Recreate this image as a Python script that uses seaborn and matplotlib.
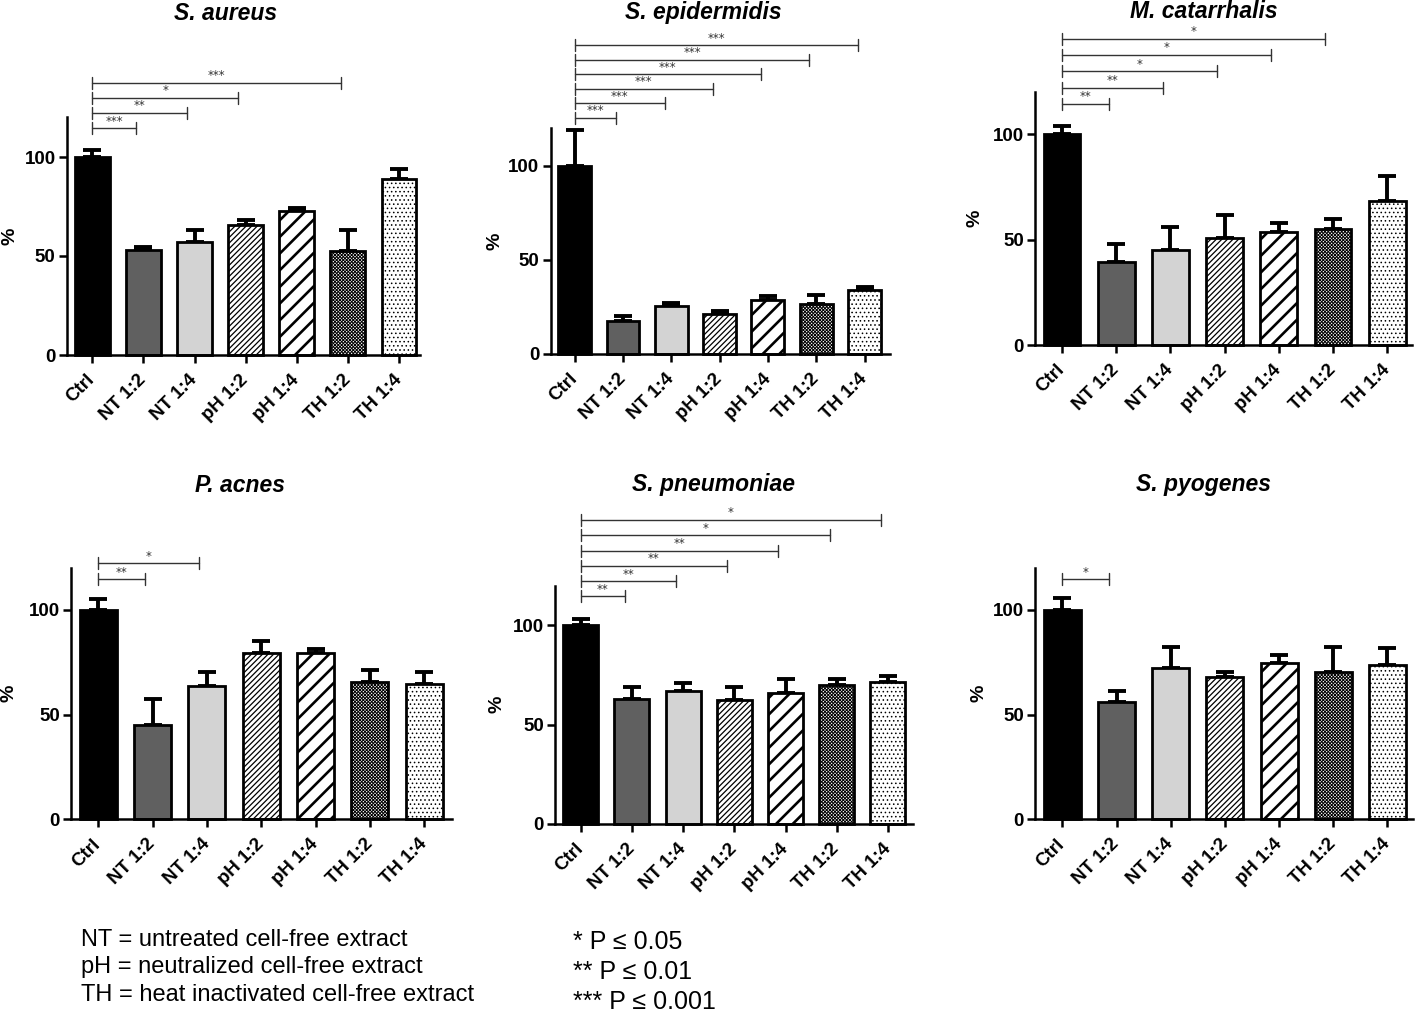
import numpy as np
import pandas as pd
import matplotlib
matplotlib.use("Agg")
import matplotlib.pyplot as plt
import seaborn as sns

# ---------------- data ----------------
categories = ["Ctrl", "NT 1:2", "NT 1:4", "pH 1:2", "pH 1:4", "TH 1:2", "TH 1:4"]
organisms = ["S. aureus", "S. epidermidis", "M. catarrhalis",
             "P. acnes", "S. pneumoniae", "S. pyogenes"]

aureus_mean = [100, 53.0, 57.2, 65.5, 72.7, 52.5, 89.0]
aureus_err = [3.7, 1.4, 6.1, 2.5, 1.5, 10.5, 4.8]
epidermidis_mean = [100, 17.7, 25.5, 21.1, 28.7, 26.6, 34.0]
epidermidis_err = [19.1, 2.5, 1.8, 1.9, 2.3, 4.8, 1.5]
catarrhalis_mean = [100, 39.2, 44.9, 50.6, 53.6, 55.2, 68.2]
catarrhalis_err = [3.9, 8.7, 10.9, 10.9, 4.4, 4.6, 12.2]
acnes_mean = [100, 45.0, 63.7, 79.3, 79.3, 65.5, 64.5]
acnes_err = [4.9, 12.2, 6.6, 5.9, 2.1, 5.9, 5.8]
pneumoniae_mean = [100, 63.1, 67.1, 62.4, 65.8, 70.0, 71.6]
pneumoniae_err = [3.4, 5.7, 3.7, 6.7, 7.3, 3.1, 3.0]
pyogenes_mean = [100, 56.1, 72.3, 68.0, 74.6, 70.3, 73.8]
pyogenes_err = [5.6, 5.0, 9.8, 2.3, 3.7, 12.0, 8.1]

# significance vs Ctrl: (target category index, label)
aureus_sig = [(1, "***"), (2, "**"), (3, "*"), (5, "***")]
epidermidis_sig = [(1, "***"), (2, "***"), (3, "***"), (4, "***"), (5, "***"), (6, "***")]
catarrhalis_sig = [(1, "**"), (2, "**"), (3, "*"), (4, "*"), (5, "*")]
acnes_sig = [(1, "**"), (2, "*")]
pneumoniae_sig = [(1, "**"), (2, "**"), (3, "**"), (4, "**"), (5, "*"), (6, "*")]
pyogenes_sig = [(1, "*")]

y_ticks = [0, 50, 100]
legend_lines = ["NT = untreated cell-free extract",
                "pH = neutralized cell-free extract",
                "TH = heat inactivated cell-free extract"]
pvalue_lines = ["* P \u2264 0.05", "** P \u2264 0.01", "*** P \u2264 0.001"]

means = [aureus_mean, epidermidis_mean, catarrhalis_mean,
         acnes_mean, pneumoniae_mean, pyogenes_mean]
errs = [aureus_err, epidermidis_err, catarrhalis_err,
        acnes_err, pneumoniae_err, pyogenes_err]
sigs = [aureus_sig, epidermidis_sig, catarrhalis_sig,
        acnes_sig, pneumoniae_sig, pyogenes_sig]

# ---------------- style ----------------
sns.set_style("ticks")
plt.rcParams["font.family"] = ["Liberation Sans", "DejaVu Sans"]
plt.rcParams["hatch.linewidth"] = 1.0
for key in ["text.color", "axes.labelcolor", "xtick.color", "ytick.color", "axes.edgecolor"]:
    plt.rcParams[key] = "black"

fills = ["black", "#606060", "#d3d3d3", "white", "white", "white", "white"]
hatches = [None, None, None, "//////", "//", "xxxxxxxxxx", "...."]
hatch_lw = [1, 1, 1, 0.9, 1.9, 0.7, 0.6]

W, H = 1418, 1014
fig = plt.figure(figsize=(W / 100, H / 100), dpi=100)

# layout: ctrl center px, bar spacing px, baseline px, px per unit, xmax, ylabel right px, title (x, y)
layout = [
    (92.3, 51.1, 355.0, 1.98, 6.41, 18, (226, 14)),
    (574.7, 48.3, 354.0, 1.88, 6.53, 504, (703, 13)),
    (1062.0, 54.2, 345.0, 2.107, 6.45, 984, (1204, 11)),
    (98.3, 54.3, 819.3, 2.096, 6.51, 18, (240, 486)),
    (580.7, 51.2, 824.0, 1.987, 6.5, 505, (713, 484)),
    (1062.3, 54.2, 819.3, 2.096, 6.47, 987, (1203, 485)),
]

for k in range(6):
    ctrl, sp, base, ppu, xmax, ylab_r, (tx, ty) = layout[k]
    left = ctrl - 0.5 * sp
    right = ctrl + xmax * sp
    top = base - 120 * ppu
    ax = fig.add_axes([left / W, 1 - base / H, (right - left) / W, (base - top) / H])

    df = pd.DataFrame({"cond": categories, "val": means[k]})
    sns.barplot(data=df, x="cond", y="val", hue="cond", palette=fills,
                order=categories, hue_order=categories, legend=False,
                width=0.68, edgecolor="black", linewidth=2.0,
                errorbar=None, ax=ax, zorder=2)
    for i, p in enumerate(ax.patches):
        p.set_edgecolor("black")
        p.set_clip_on(False)
        if hatches[i]:
            p.set_hatch(hatches[i])
            if hasattr(p, "set_hatch_linewidth"):
                p.set_hatch_linewidth(hatch_lw[i])

    x = np.arange(len(categories))
    ax.errorbar(x, means[k], yerr=[np.zeros(len(x)), errs[k]], fmt="none",
                ecolor="black", elinewidth=2.8, capsize=6.5, capthick=2.8,
                zorder=1, clip_on=False)

    ax.set_xlim(-0.5, xmax)
    ax.set_ylim(0, 120)
    ax.set_yticks(y_ticks)
    ax.set_xticks(x)
    ax.set_xticklabels(categories, rotation=45, ha="right", va="center",
                       rotation_mode="anchor", fontweight="bold", fontsize=13.5)
    for lab in ax.get_yticklabels():
        lab.set_fontweight("bold")
        lab.set_fontsize(13.5)
    ax.tick_params(axis="both", width=1.8, length=6, color="black", labelcolor="black")
    ax.tick_params(axis="x", pad=10)
    ax.tick_params(axis="y", pad=2)
    sns.despine(ax=ax)
    for s in ["left", "bottom"]:
        ax.spines[s].set_linewidth(1.8)
        ax.spines[s].set_color("black")
    ax.set_xlabel("")
    ax.set_ylabel("%", fontweight="bold", fontsize=14)
    ax.yaxis.set_label_coords((ylab_r - left) / (right - left), 0.5)

    # significance brackets
    level0 = max(114.5, means[k][0] + errs[k][0] + 6.5)
    step = 7.7
    half = 6.0 / ppu
    for j, (tgt, lab) in enumerate(sigs[k]):
        yb = level0 + j * step
        xe = tgt - 0.14
        kw = dict(color="#333333", lw=1.0, clip_on=False, zorder=4)
        ax.plot([0, xe], [yb, yb], **kw)
        ax.plot([0, 0], [yb - half, yb + half], **kw)
        ax.plot([xe, xe], [yb - half, yb + half], **kw)
        ax.text(xe / 2, yb + 0.3, lab, ha="center", va="bottom", fontsize=8.5,
                color="#333333", family=["DejaVu Sans"], clip_on=False)

    fig.text(tx / W, 1 - ty / H, organisms[k], ha="center", va="center",
             fontsize=16.5, fontweight="bold", fontstyle="italic")

for i, t in enumerate(legend_lines):
    fig.text(81 / W, 1 - (940 + 27.5 * i) / H, t, ha="left", va="center", fontsize=17)
for i, t in enumerate(pvalue_lines):
    fig.text(573 / W, 1 - (942 + 30 * i) / H, t, ha="left", va="center", fontsize=18)

fig.savefig("out.png", dpi=100)
